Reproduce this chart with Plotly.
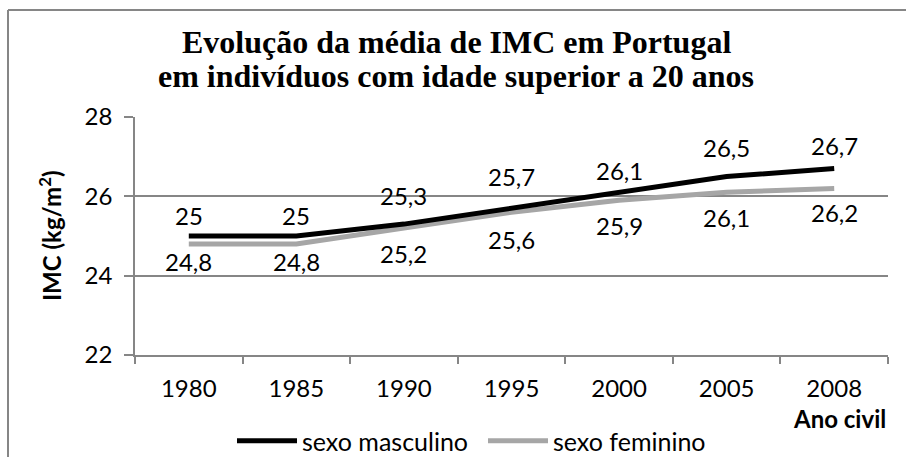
import plotly.graph_objects as go

years = ["1980", "1985", "1990", "1995", "2000", "2005", "2008"]
male = [25.0, 25.0, 25.3, 25.7, 26.1, 26.5, 26.7]
female = [24.8, 24.8, 25.2, 25.6, 25.9, 26.1, 26.2]
male_labels = ["25", "25", "25,3", "25,7", "26,1", "26,5", "26,7"]
female_labels = ["24,8", "24,8", "25,2", "25,6", "25,9", "26,1", "26,2"]
y_ticks = [22, 24, 26, 28]
title_lines = ["Evolução da média de IMC em Portugal",
               "em indivíduos com idade superior a 20 anos"]

# label offsets in pixels (positive = up)
male_shift = [21, 21, 29, 32, 22, 29, 23]
female_shift = [-18, -18, -25, -27, -25, -25, -24]

W, H = 906, 457
L, R, T, B = 135, 888, 117, 355


def px(x):
    return (x - L) / (R - L)


def py(y):
    return (B - y) / (B - T)


FONT = "Lato"

fig = go.Figure()
fig.add_trace(go.Scatter(x=years, y=female, mode="lines", name="sexo feminino",
                         line=dict(color="#A6A6A6", width=5), legendrank=2))
fig.add_trace(go.Scatter(x=years, y=male, mode="lines", name="sexo masculino",
                         line=dict(color="#000000", width=5), legendrank=1))

ann = []
for i, (yv, t, s) in enumerate(zip(male, male_labels, male_shift)):
    ann.append(dict(x=i, y=yv, xref="x", yref="y", text=t, showarrow=False, yshift=s,
                    font=dict(family=FONT, size=24, color="black")))
for i, (yv, t, s) in enumerate(zip(female, female_labels, female_shift)):
    ann.append(dict(x=i, y=yv, xref="x", yref="y", text=t, showarrow=False, yshift=s,
                    font=dict(family=FONT, size=24, color="black")))

for t, yc in zip(title_lines, [42, 76]):
    ann.append(dict(xref="paper", yref="paper", x=px(456), y=py(yc), text=t, showarrow=False,
                    xanchor="center", yanchor="middle",
                    font=dict(family="Liberation Serif", size=32, color="black", weight="bold")))

ann.append(dict(xref="paper", yref="paper", x=px(50), y=0.5, text="IMC (kg/m<sup>2</sup>)",
                textangle=-90, showarrow=False, xanchor="center", yanchor="middle",
                font=dict(family=FONT, size=24, color="black", weight="bold")))
ann.append(dict(xref="paper", yref="paper", x=1.0, y=py(418), text="Ano civil",
                showarrow=False, xanchor="right", yanchor="middle",
                font=dict(family=FONT, size=24, color="black", weight="bold")))

shapes = [
    dict(type="line", xref="paper", yref="paper", x0=px(8), y0=py(460), x1=px(8), y1=py(10),
         line=dict(color="#868686", width=2)),
    dict(type="line", xref="paper", yref="paper", x0=px(8), y0=py(10), x1=px(910), y1=py(10),
         line=dict(color="#868686", width=2)),
]

fig.update_layout(
    template="none",
    width=W, height=H,
    margin=dict(l=L, r=W - R, t=T, b=H - B, autoexpand=False),
    paper_bgcolor="white", plot_bgcolor="white",
    xaxis=dict(type="category", range=[-0.5, 6.5], showgrid=False, showline=True, automargin=False,
               linecolor="#868686", linewidth=1.5, ticks="outside", tickson="boundaries",
               ticklen=7, tickcolor="#868686", tickwidth=1.5,
               tickfont=dict(family=FONT, size=24, color="black"), ticklabelstandoff=11),
    yaxis=dict(range=[22, 28], tickvals=y_ticks, showgrid=True, gridcolor="#868686", gridwidth=1.5,
               showline=True, linecolor="#868686", linewidth=1.5, ticks="outside", ticklen=9,
               tickcolor="#868686", tickwidth=1.5, zeroline=False, automargin=False,
               tickfont=dict(family=FONT, size=24, color="black"), ticklabelstandoff=7),
    showlegend=True,
    legend=dict(orientation="h", x=px(232), xanchor="left", y=py(441), yanchor="middle",
                font=dict(family=FONT, size=25, color="black"), itemwidth=60,
                entrywidth=176, entrywidthmode="pixels",
                bgcolor="rgba(0,0,0,0)", traceorder="normal"),
    annotations=ann,
    shapes=shapes,
)

fig.write_html("out.html", config={"displayModeBar": False},
               post_script="document.body.style.margin='0px';document.body.style.overflow='hidden';")
